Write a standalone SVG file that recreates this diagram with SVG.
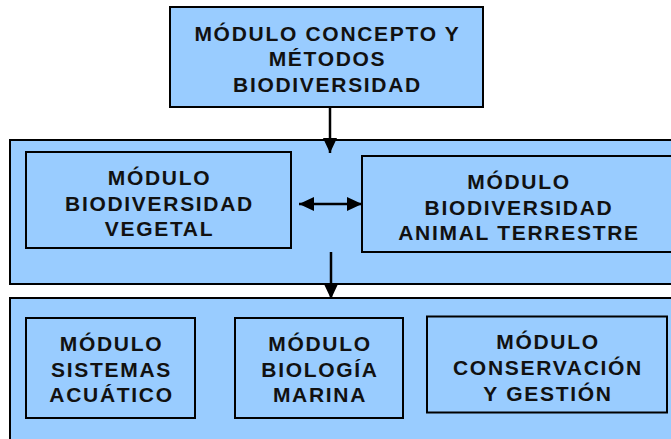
<svg xmlns="http://www.w3.org/2000/svg" width="671" height="439" viewBox="0 0 671 439">
<defs>
<style>
.box{fill:#99CCFF;stroke:#000;stroke-width:2}
.t{font-family:"Liberation Sans",Arial,sans-serif;font-weight:bold;font-size:21px;letter-spacing:1.7px;fill:#111;text-anchor:middle}
.c{stroke:#000;stroke-width:2.5;fill:none}
</style>
<marker id="ah" viewBox="0 0 15 14" refX="15" refY="7" markerWidth="15" markerHeight="14" markerUnits="userSpaceOnUse" orient="auto-start-reverse">
<path d="M0,0 L15,7 L0,14 Z" fill="#000"/>
</marker>
</defs>
<rect width="671" height="439" fill="#fff"/>
<g id="grupo-medio"><rect class="box" x="10" y="140" width="670" height="144"/></g>
<g id="grupo-inferior"><rect class="box" x="10" y="298" width="670" height="150"/></g>
<g id="concepto">
<rect class="box" x="170" y="7" width="313" height="100"/>
<text class="t" x="327.5" y="40.5">MÓDULO CONCEPTO Y</text>
<text class="t" x="327.5" y="66">MÉTODOS</text>
<text class="t" x="327.5" y="91.5">BIODIVERSIDAD</text>
</g>
<g id="vegetal">
<rect class="box" x="26" y="152" width="265" height="96"/>
<text class="t" x="159.5" y="185">MÓDULO</text>
<text class="t" x="159.5" y="210.5">BIODIVERSIDAD</text>
<text class="t" x="159.5" y="236">VEGETAL</text>
</g>
<g id="animal">
<rect class="box" x="362" y="156" width="312" height="96"/>
<text class="t" x="519" y="189">MÓDULO</text>
<text class="t" x="519" y="214.5">BIODIVERSIDAD</text>
<text class="t" x="519" y="240">ANIMAL TERRESTRE</text>
</g>
<g id="acuatico">
<rect class="box" x="26" y="318" width="169" height="100"/>
<text class="t" x="111.5" y="351">MÓDULO</text>
<text class="t" x="111.5" y="376.5">SISTEMAS</text>
<text class="t" x="111.5" y="402">ACUÁTICO</text>
</g>
<g id="marina">
<rect class="box" x="235" y="318" width="168" height="100"/>
<text class="t" x="320" y="351">MÓDULO</text>
<text class="t" x="320" y="376.5">BIOLOGÍA</text>
<text class="t" x="320" y="402">MARINA</text>
</g>
<g id="conservacion">
<rect class="box" x="427" y="316.5" width="240" height="96"/>
<text class="t" x="548" y="349">MÓDULO</text>
<text class="t" x="548" y="375">CONSERVACIÓN</text>
<text class="t" x="548" y="400.5">Y GESTIÓN</text>
</g>
<g id="conectores">
<line class="c" x1="330" y1="107" x2="330" y2="153" marker-end="url(#ah)"/>
<line class="c" x1="331" y1="252" x2="331" y2="299" marker-end="url(#ah)"/>
<line class="c" x1="299" y1="204" x2="362" y2="204" marker-start="url(#ah)" marker-end="url(#ah)"/>
</g>
</svg>
